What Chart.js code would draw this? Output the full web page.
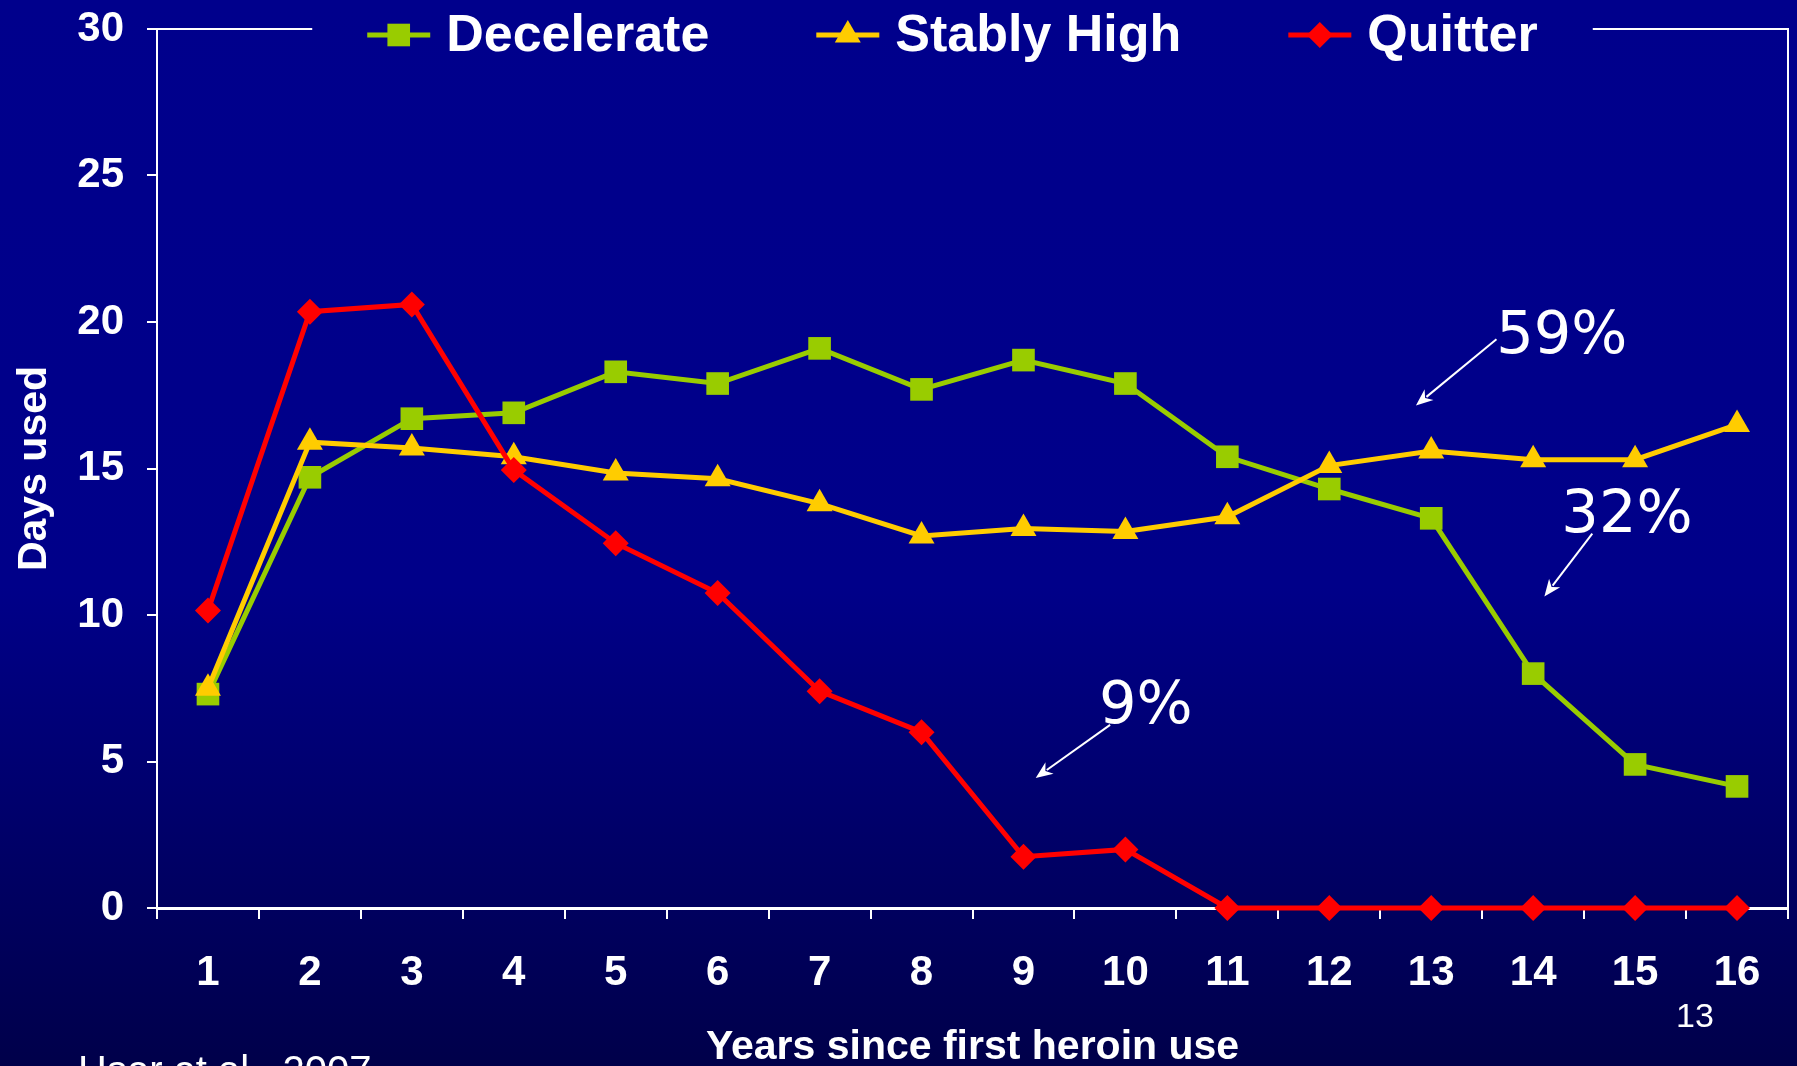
<!DOCTYPE html>
<html>
<head>
<meta charset="utf-8">
<script src="https://cdn.jsdelivr.net/npm/chart.js@4/dist/chart.umd.min.js"></script>
<style>
html,body{margin:0;padding:0;background:#00008a;overflow:hidden}
canvas{display:block}
</style>
</head>
<body>
<canvas id="c" width="1797" height="1066"></canvas>
<script>
// ---------- data ----------
const years = ['1','2','3','4','5','6','7','8','9','10','11','12','13','14','15','16'];
const yTicks = [0, 5, 10, 15, 20, 25, 30];
const seriesNames = ['Decelerate', 'Stably High', 'Quitter'];
const decelerate = [7.3, 14.7, 16.7, 16.9, 18.3, 17.9, 19.1, 17.7, 18.7, 17.9, 15.4, 14.3, 13.3, 8.0, 4.9, 4.15];
const stablyHigh = [7.5, 15.9, 15.7, 15.4, 14.85, 14.65, 13.8, 12.7, 12.95, 12.85, 13.35, 15.1, 15.6, 15.3, 15.3, 16.5];
const quitter    = [10.15, 20.35, 20.6, 14.95, 12.45, 10.75, 7.4, 6.0, 1.75, 2.0, 0, 0, 0, 0, 0, 0];
const shareLabels = ['59%', '32%', '9%'];
const axisTitleX = 'Years since first heroin use';
const axisTitleY = 'Days used';
const sourceText = 'Hser et al., 2007';
const pageNumber = '13';

// ---------- layout / style (kept apart from the data) ----------
const FONT = '"Liberation Sans", Arial, Helvetica, sans-serif';
const WHITE = '#ffffff';
// annotation anchors in data units (x = category index, y = value)
const annotationAnchors = [
  {text: [13.28, 19.45], from: [12.64, 19.41], to: [11.85, 17.15]},
  {text: [13.92, 13.35], from: [13.58, 12.78], to: [13.11, 10.63]},
  {text: [9.20, 6.85],   from: [8.85, 6.25],   to: [8.12, 4.44]}
];

function drawMarker(ctx, style, x, y, r, color) {
  ctx.save();
  ctx.fillStyle = color;
  ctx.beginPath();
  if (style === 'rect') {
    const s = r * Math.SQRT1_2;
    ctx.rect(x - s, y - s, 2 * s, 2 * s);
  } else if (style === 'triangle') {
    ctx.moveTo(x, y - r);
    ctx.lineTo(x + r * 0.866, y + r * 0.5);
    ctx.lineTo(x - r * 0.866, y + r * 0.5);
    ctx.closePath();
  } else {
    ctx.moveTo(x, y - r);
    ctx.lineTo(x + r, y);
    ctx.lineTo(x, y + r);
    ctx.lineTo(x - r, y);
    ctx.closePath();
  }
  ctx.fill();
  ctx.restore();
}

function legendLayout(chart) {
  const ctx = chart.ctx;
  ctx.save();
  ctx.font = 'bold 52px ' + FONT;
  const lineW = 63, textGap = 16, itemGap = 107;
  const items = chart.data.datasets.map(ds => ({ds, tw: ctx.measureText(ds.label).width}));
  ctx.restore();
  const total = items.reduce((s, it) => s + lineW + textGap + it.tw, 0) + itemGap * (items.length - 1);
  const ca = chart.chartArea;
  let x = (ca.left + ca.right) / 2 - 20 - total / 2;
  const start = x;
  items.forEach(it => { it.x = x; x += lineW + textGap + it.tw + itemGap; });
  return {items, start, end: start + total, lineW, textGap, y: ca.top + 6};
}

const bgPlugin = {
  id: 'bg',
  beforeDraw(chart) {
    const {ctx, width, height} = chart;
    const g = ctx.createLinearGradient(0, 0, 0, height);
    g.addColorStop(0, '#00008c');
    g.addColorStop(0.55, '#000089');
    g.addColorStop(1, '#00004a');
    ctx.save();
    ctx.fillStyle = g;
    ctx.fillRect(0, 0, width, height);
    ctx.restore();
  }
};

const framePlugin = {
  id: 'frame',
  beforeDatasetsDraw(chart) {
    const {ctx, chartArea: ca} = chart;
    const L = legendLayout(chart);
    ctx.save();
    ctx.strokeStyle = WHITE;
    ctx.lineWidth = 2;
    ctx.beginPath();
    ctx.moveTo(ca.left, ca.top);
    ctx.lineTo(L.start - 55, ca.top);
    ctx.moveTo(L.end + 55, ca.top);
    ctx.lineTo(ca.right, ca.top);
    ctx.lineTo(ca.right, ca.bottom + 11);
    ctx.stroke();
    ctx.restore();
  }
};

const legendPlugin = {
  id: 'customLegend',
  afterDatasetsDraw(chart) {
    const {ctx} = chart;
    const L = legendLayout(chart);
    ctx.save();
    L.items.forEach(it => {
      const ds = it.ds;
      ctx.strokeStyle = ds.borderColor;
      ctx.lineWidth = 5;
      ctx.beginPath();
      ctx.moveTo(it.x, L.y);
      ctx.lineTo(it.x + L.lineW, L.y);
      ctx.stroke();
      drawMarker(ctx, ds.pointStyle, it.x + L.lineW / 2, L.y, ds.pointRadius, ds.backgroundColor);
      ctx.fillStyle = WHITE;
      ctx.font = 'bold 52px ' + FONT;
      ctx.textBaseline = 'middle';
      ctx.textAlign = 'left';
      ctx.fillText(ds.label, it.x + L.lineW + L.textGap, L.y + 2);
    });
    ctx.restore();
  }
};

const annotationPlugin = {
  id: 'shares',
  afterDatasetsDraw(chart) {
    const {ctx, scales: {x, y}} = chart;
    ctx.save();
    shareLabels.forEach((label, i) => {
      const a = annotationAnchors[i];
      const tx = x.getPixelForValue(a.text[0]), ty = y.getPixelForValue(a.text[1]);
      ctx.fillStyle = WHITE;
      ctx.font = '500 59px "DejaVu Sans", sans-serif';
      ctx.textAlign = 'center';
      ctx.textBaseline = 'middle';
      ctx.fillText(label, tx, ty);
      const x1 = x.getPixelForValue(a.from[0]), y1 = y.getPixelForValue(a.from[1]);
      const x2 = x.getPixelForValue(a.to[0]), y2 = y.getPixelForValue(a.to[1]);
      const ang = Math.atan2(y2 - y1, x2 - x1);
      const hl = 17, hw = 7;
      ctx.strokeStyle = WHITE;
      ctx.lineWidth = 2;
      ctx.beginPath();
      ctx.moveTo(x1, y1);
      ctx.lineTo(x2 - Math.cos(ang) * hl * 0.8, y2 - Math.sin(ang) * hl * 0.8);
      ctx.stroke();
      ctx.beginPath();
      ctx.moveTo(x2, y2);
      ctx.lineTo(x2 - Math.cos(ang) * hl - Math.sin(ang) * hw, y2 - Math.sin(ang) * hl + Math.cos(ang) * hw);
      ctx.lineTo(x2 - Math.cos(ang) * hl * 0.7, y2 - Math.sin(ang) * hl * 0.7);
      ctx.lineTo(x2 - Math.cos(ang) * hl + Math.sin(ang) * hw, y2 - Math.sin(ang) * hl - Math.cos(ang) * hw);
      ctx.closePath();
      ctx.fill();
    });
    // footer texts
    ctx.fillStyle = WHITE;
    ctx.textAlign = 'center';
    ctx.textBaseline = 'middle';
    ctx.font = '34px ' + FONT;
    ctx.fillText(pageNumber, 1695, 1018);
    ctx.textAlign = 'left';
    ctx.textBaseline = 'alphabetic';
    ctx.font = '40px ' + FONT;
    ctx.fillText(sourceText, 78, 1084);
    ctx.restore();
  }
};

Chart.defaults.font.family = FONT;
Chart.defaults.color = WHITE;

const colors = ['#99cc00', '#ffcc00', '#ff0000'];
const styles = ['rect', 'triangle', 'rectRot'];
const radii = [16, 15, 13];
const seriesData = [decelerate, stablyHigh, quitter];

new Chart(document.getElementById('c'), {
  type: 'line',
  data: {
    labels: years,
    datasets: seriesNames.map((name, i) => ({
      label: name,
      data: seriesData[i],
      borderColor: colors[i],
      backgroundColor: colors[i],
      pointBackgroundColor: colors[i],
      pointBorderColor: colors[i],
      pointBorderWidth: 0,
      pointStyle: styles[i],
      pointRadius: radii[i],
      borderWidth: 5,
      tension: 0,
      clip: false,
      order: 3 - i
    }))
  },
  options: {
    responsive: false,
    animation: false,
    devicePixelRatio: 1,
    layout: {autoPadding: false, padding: {top: 29, right: 9, left: 0, bottom: 0}},
    plugins: {legend: {display: false}, tooltip: {enabled: false}},
    scales: {
      x: {
        type: 'category',
        offset: true,
        grid: {display: true, drawOnChartArea: false, color: WHITE, lineWidth: 2, tickLength: 11, offset: true},
        border: {display: true, color: WHITE, width: 3},
        ticks: {color: WHITE, font: {size: 42, weight: 'bold'}, padding: 29, maxRotation: 0, autoSkip: false},
        title: {display: true, text: axisTitleX, color: WHITE, font: {size: 41, weight: 'bold', lineHeight: 0.88}, padding: {top: 0, bottom: 0}},
        afterFit(s) { s.height = 158; s.paddingLeft = 0; s.paddingRight = 0; }
      },
      y: {
        min: 0, max: 30,
        afterBuildTicks(s) { s.ticks = yTicks.map(v => ({value: v})); },
        grid: {display: true, drawOnChartArea: false, color: WHITE, lineWidth: 2, tickLength: 10},
        border: {display: true, color: WHITE, width: 2},
        ticks: {color: WHITE, font: {size: 42, weight: 'bold'}, padding: 23},
        title: {display: true, text: axisTitleY, color: WHITE, font: {size: 41, weight: 'bold', lineHeight: 1}, padding: {top: 14, bottom: 0}},
        afterFit(s) { s.width = 157; s.paddingTop = 0; s.paddingBottom = 0; }
      }
    }
  },
  plugins: [bgPlugin, framePlugin, legendPlugin, annotationPlugin]
});
</script>
</body>
</html>
